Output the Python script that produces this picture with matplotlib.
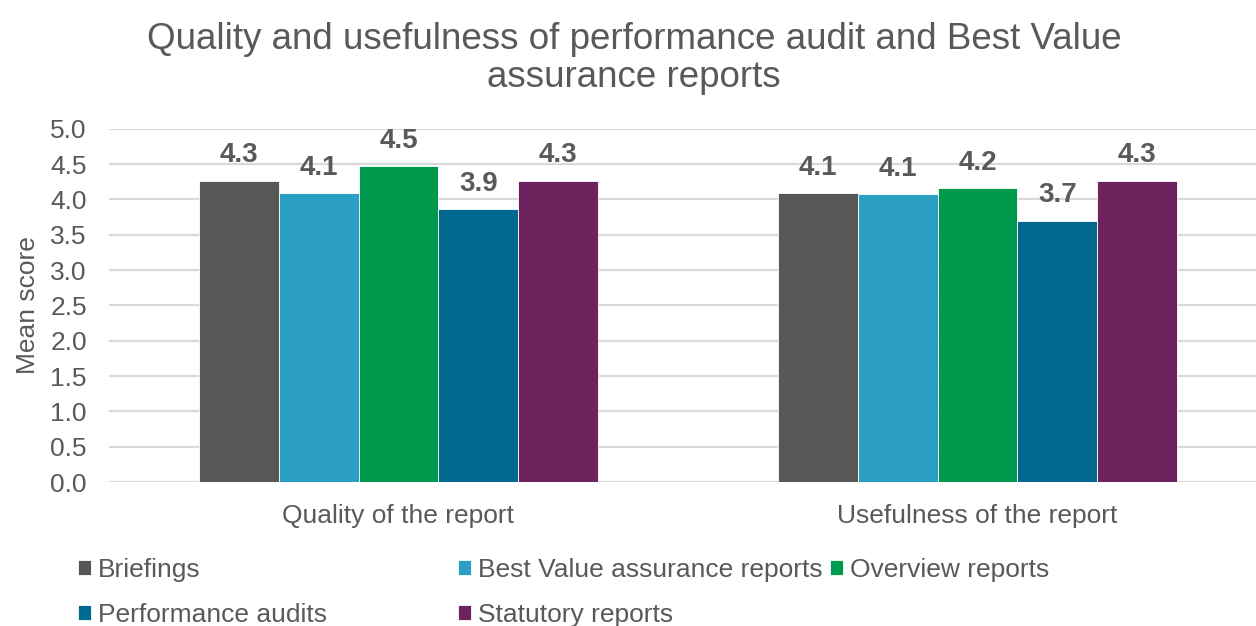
import numpy as np
import matplotlib
matplotlib.use('Agg')
import matplotlib.pyplot as plt

plt.rcParams['font.family'] = ['Liberation Sans', 'DejaVu Sans']

#============================================
# data
categories = ['Quality of the report', 'Usefulness of the report']
series = ['Briefings', 'Best Value assurance reports', 'Overview reports',
          'Performance audits', 'Statutory reports']
briefings = [4.26, 4.09]
best_value = [4.09, 4.07]
overview = [4.47, 4.16]
performance = [3.86, 3.70]
statutory = [4.26, 4.26]
colors = ['#575756', '#2ca0c4', '#009a4e', '#00698f', '#6c235e']
yticks = [0.0, 0.5, 1.0, 1.5, 2.0, 2.5, 3.0, 3.5, 4.0, 4.5, 5.0]

values = [briefings, best_value, overview, performance, statutory]
grey = '#595959'

fig = plt.figure(figsize=(12.56, 6.26), dpi=100)
ax = fig.add_axes([109/1256, 1-482/626, 1158/1256, (482-128.7)/626])

x = np.arange(len(categories))
bw = 0.138
handles = []
for i, (name, vals) in enumerate(zip(series, values)):
    bars = ax.bar(x + (i - 2) * bw, vals, bw, color=colors[i], label=name,
                  edgecolor='white', linewidth=0.6, zorder=3)
    ax.bar_label(bars, fmt='%.1f', padding=9, fontsize=20, fontweight='bold',
                 color=grey)
    handles.append(bars)

ax.set_xlim(-0.5, 1.5)
ax.set_ylim(0, 5)
ax.set_yticks(yticks)
ax.set_yticklabels([f'{t:.1f}' for t in yticks])
ax.yaxis.grid(True, color='#d9d9d9', linewidth=1.6, zorder=0)
ax.set_axisbelow(True)
ax.set_xticks(x)
ax.set_xticklabels(categories)
ax.tick_params(axis='both', length=0, labelsize=19, labelcolor=grey)
ax.tick_params(axis='x', pad=16)
ax.tick_params(axis='y', pad=16)
for s in ax.spines.values():
    s.set_visible(False)
ax.set_ylabel('Mean score', fontsize=19, color=grey, labelpad=7)

fig.suptitle('Quality and usefulness of performance audit and Best Value\nassurance reports',
             x=0.505, y=0.965, fontsize=26.5, color=grey, linespacing=1.1)

#------------------------------------------------
# legend, three columns placed like the original
cols = [([0, 3], 78), ([1, 4], 458), ([2], 830)]
for idx, xpos in cols:
    fig.legend([handles[k] for k in idx], [series[k] for k in idx],
               loc='upper left', bbox_to_anchor=(xpos/1256, 1-558/626),
               frameon=False, fontsize=19, labelcolor=grey,
               handlelength=0.5, handleheight=0.5, handletextpad=0.25,
               borderpad=0, borderaxespad=0, labelspacing=0.78)

fig.savefig('out.png', dpi=100)
